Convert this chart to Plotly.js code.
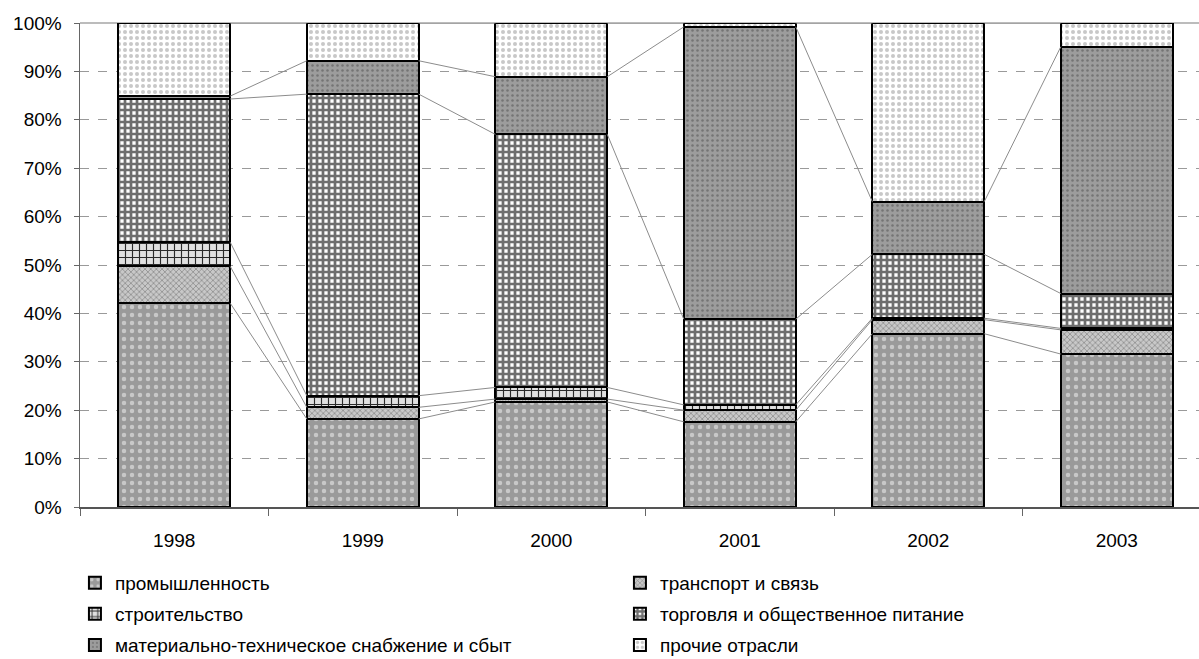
<!DOCTYPE html>
<html>
<head>
<meta charset="utf-8">
<script src="https://cdn.plot.ly/plotly-3.0.1.min.js"></script>
<style>html,body{margin:0;padding:0;background:#fff;}#chart{width:1199px;height:659px;}</style>
</head>
<body>
<div id="chart"></div>
<script>
// ---- data (percent shares) ----
const years = ['1998', '1999', '2000', '2001', '2002', '2003'];
const seriesNames = [
  'промышленность',
  'транспорт и связь',
  'строительство',
  'торговля и общественное питание',
  'материально-техническое снабжение и сбыт',
  'прочие отрасли'
];
const industry     = [42.1, 18.2, 21.7, 17.6, 35.8, 31.6];
const transport    = [7.6, 2.4, 0.6, 2.4, 2.9, 5.0];
const construction = [5.0, 2.4, 2.4, 1.1, 0.3, 0.3];
const trade        = [29.6, 62.3, 52.3, 17.7, 13.2, 7.2];
const supply       = [0.6, 6.9, 11.9, 60.4, 10.9, 51.0];
const other        = [15.1, 7.8, 11.1, 0.8, 36.9, 4.9];
const yTickVals    = [0, 10, 20, 30, 40, 50, 60, 70, 80, 90, 100];
const yTickText    = ['0%', '10%', '20%', '30%', '40%', '50%', '60%', '70%', '80%', '90%', '100%'];

const seriesValues = [industry, transport, construction, trade, supply, other];

// ---- styles ----
const patterns = [
  {shape: '.', bgcolor: '#9a9a9a', fgcolor: '#c8c8c8', size: 8, solidity: 0.25, fillmode: 'replace'},
  {shape: 'x', bgcolor: '#c8c8c8', fgcolor: '#808080', size: 4, solidity: 0.3, fillmode: 'replace'},
  {shape: '+', bgcolor: '#e0e0e0', fgcolor: '#2a2a2a', size: 7, solidity: 0.3, fillmode: 'replace'},
  {shape: '+', bgcolor: '#ffffff', fgcolor: '#6e6e6e', size: 6, solidity: 0.7, fillmode: 'replace'},
  {shape: '.', bgcolor: '#9c9c9c', fgcolor: '#747474', size: 5, solidity: 0.2, fillmode: 'replace'},
  {shape: '.', bgcolor: '#ffffff', fgcolor: '#c8c8c8', size: 6, solidity: 0.35, fillmode: 'replace'}
];
const legendIds = ['legend', 'legend', 'legend2', 'legend2', 'legend3', 'legend3'];
const BARGAP = 0.406;
const FONT = 'Liberation Sans, Arial, sans-serif';

const traces = seriesValues.map((vals, k) => ({
  type: 'bar',
  name: seriesNames[k],
  x: years,
  y: vals,
  legend: legendIds[k],
  marker: {
    color: patterns[k].bgcolor,
    pattern: patterns[k],
    line: {color: '#000000', width: 2}
  },
  hoverinfo: 'skip'
}));

// series lines connecting the top of each segment between neighbouring bars
const half = (1 - BARGAP) / 2;
const cum = [];
seriesValues.forEach((vals, k) => {
  cum.push(vals.map((v, i) => v + (k > 0 ? cum[k - 1][i] : 0)));
});
const lx = [], ly = [];
cum.forEach(c => {
  for (let i = 0; i < years.length - 1; i++) {
    lx.push(i + half, i + 1 - half, null);
    ly.push(c[i], c[i + 1], null);
  }
});
traces.push({
  type: 'scatter', mode: 'lines', x: lx, y: ly, xaxis: 'x2',
  line: {color: '#8c8c8c', width: 1}, showlegend: false, hoverinfo: 'skip'
});

const legendBase = {
  orientation: 'h', xref: 'container', yref: 'container',
  x: 0.0625, xanchor: 'left', yanchor: 'middle',
  entrywidth: 500, entrywidthmode: 'pixels', traceorder: 'normal',
  font: {family: FONT, size: 19, color: '#000'},
  bgcolor: 'rgba(0,0,0,0)', itemclick: false
};

const xRange = [-0.5, 5.436];
const layout = {
  width: 1199, height: 659,
  margin: {l: 80, r: 0, t: 23, b: 152},
  paper_bgcolor: '#ffffff', plot_bgcolor: '#ffffff',
  barmode: 'stack', bargap: BARGAP,
  font: {family: FONT, color: '#000'},
  xaxis: {
    type: 'category', range: xRange, tickson: 'boundaries',
    ticks: 'outside', ticklen: 7, tickcolor: '#666', tickwidth: 1,
    showline: true, linecolor: '#555', linewidth: 1.5,
    showgrid: false, tickfont: {family: FONT, size: 19, color: '#000'},
    ticklabelstandoff: 16, fixedrange: true
  },
  xaxis2: {overlaying: 'x', range: xRange, visible: false, fixedrange: true},
  yaxis: {
    range: [0, 100], tickmode: 'array', tickvals: yTickVals, ticktext: yTickText,
    ticks: 'outside', ticklen: 5, tickcolor: '#666', tickwidth: 1,
    showline: true, linecolor: '#666', linewidth: 1.5,
    showgrid: true, gridcolor: '#9a9a9a', griddash: 'dash', gridwidth: 1,
    zeroline: false, tickfont: {family: FONT, size: 19, color: '#000'},
    ticklabelstandoff: 8, fixedrange: true
  },
  shapes: [{
    type: 'line', xref: 'paper', yref: 'paper', x0: 0, x1: 1, y0: 1, y1: 1,
    line: {color: '#a6a6a6', width: 1.5}, layer: 'below'
  }],
  legend: Object.assign({}, legendBase, {y: 0.1153}),
  legend2: Object.assign({}, legendBase, {y: 0.0683}),
  legend3: Object.assign({}, legendBase, {y: 0.0212}),
  showlegend: true
};

Plotly.newPlot('chart', traces, layout, {displayModeBar: false, staticPlot: true});
</script>
</body>
</html>
